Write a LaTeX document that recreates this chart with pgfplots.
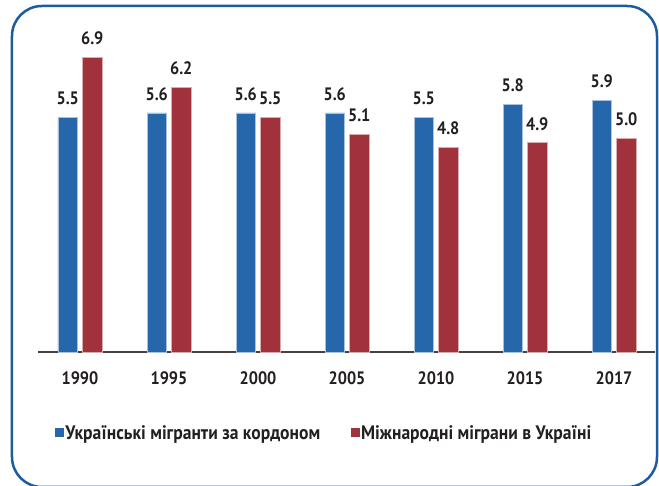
\documentclass[border=0pt]{standalone}
\usepackage{fontspec}
\setmainfont{PT Sans}[FakeStretch=0.9]
\usepackage{pgfplots}
\pgfplotsset{compat=1.18}
\definecolor{blueb}{RGB}{38,102,171}
\definecolor{redb}{RGB}{161,49,58}
\definecolor{txt}{RGB}{35,31,32}
\definecolor{framec}{RGB}{28,92,160}
\newcommand{\chf}{\bfseries\fontsize{18}{20}\selectfont}
\newcommand{\lgf}{\bfseries\fontsize{19.5}{21}\selectfont}
\begin{document}
\begin{tikzpicture}
\begin{axis}[
  x=89pt, y=42.7pt,
  anchor=origin, at={(0pt,0pt)},
  ybar=5pt, bar width=19.5pt,
  xmin=-0.47, xmax=6.46, ymin=0, ymax=7.5,
  axis x line=bottom, axis y line=none,
  x axis line style={-, line width=1.3pt, color=txt!85},
  xtick=data, xticklabels={1990,1995,2000,2005,2010,2015,2017},
  major tick length=0pt,
  xticklabel style={font=\chf, text=txt, inner sep=0pt, yshift=-19pt},
  nodes near coords={\pgfmathprintnumber[fixed,fixed zerofill,precision=1,assume math mode=true]{\pgfplotspointmeta}},
  nodes near coords style={font=\chf, text=txt, inner sep=0pt, yshift=12pt},
  clip=false,
  legend columns=2,
  legend style={draw=none, fill=none, font=\lgf, text=txt, at={(axis cs:2.74,-1.897)}, anchor=center,
     inner sep=0pt, nodes={inner sep=1.5pt}, /tikz/every even column/.append style={column sep=29pt}},
  legend image code/.code={\fill[#1,draw=none] (0pt,-4.5pt) rectangle (9pt,4.5pt);},
]
\addplot[fill=blueb, draw=blueb!40!white, line width=0.6pt] coordinates {(0,5.5) (1,5.6) (2,5.6) (3,5.6) (4,5.5) (5,5.8) (6,5.9)};
\addplot[fill=redb, draw=redb!40!white, line width=0.6pt] coordinates {(0,6.9) (1,6.2) (2,5.5) (3,5.1) (4,4.8) (5,4.9) (6,5.0)};
\legend{Українські мігранти за кордоном, Міжнародні мігрaни в Україні}
\end{axis}
\draw[framec, line width=2.5pt, rounded corners=30pt] (-68pt,-135pt) rectangle (577pt,346pt);
\pgfresetboundingbox
\useasboundingbox (-80pt,-134pt) rectangle (579pt,352pt);
\end{tikzpicture}
\end{document}
